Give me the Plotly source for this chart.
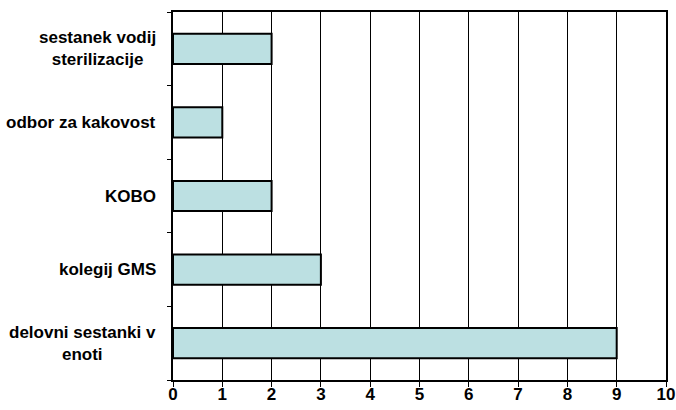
import plotly.graph_objects as go

# Meeting types and how many times each was attended
categories = [
    "sestanek vodij<br>sterilizacije",
    "odbor za kakovost",
    "KOBO",
    "kolegij GMS",
    "delovni sestanki v<br>enoti",
]
counts = [2, 1, 2, 3, 9]
x_ticks = list(range(0, 11))

FONT = "Liberation Sans, Arial, sans-serif"
FSIZE = 17

fig = go.Figure(
    go.Bar(
        x=counts,
        y=categories,
        orientation="h",
        marker=dict(color="#BCE0E2", line=dict(color="black", width=2)),
        width=0.41,
    )
)

# Category labels drawn as centred multi-line text left of the axis
for cat in categories:
    fig.add_annotation(
        x=0, xref="paper", y=cat, yref="y",
        text=f"<b>{cat}</b>", showarrow=False,
        xanchor="right", xshift=-15, align="center",
        font=dict(family=FONT, size=FSIZE, color="black"),
    )

fig.update_layout(
    width=676, height=410,
    margin=dict(l=173, r=10, t=12, b=30, autoexpand=False),
    plot_bgcolor="white", paper_bgcolor="white",
    showlegend=False,
    font=dict(family=FONT, size=FSIZE, color="black"),
)
fig.update_xaxes(
    range=[0, 10], tickvals=x_ticks,
    ticktext=[f"<b>{v}</b>" for v in x_ticks],
    showgrid=True, gridcolor="black", gridwidth=1,
    showline=True, linecolor="black", linewidth=2, mirror=True,
    ticks="outside", ticklen=5, tickcolor="black", tickwidth=1,
    ticklabelstandoff=-7,
    zeroline=False, automargin=False,
)
fig.update_yaxes(
    categoryorder="array", categoryarray=categories[::-1],
    showticklabels=False,
    showline=True, linecolor="black", linewidth=2, mirror=True,
    ticks="outside", ticklen=4, tickcolor="black", tickwidth=1,
    tickson="boundaries", showgrid=False, automargin=False,
)

fig.write_html("out.html")
